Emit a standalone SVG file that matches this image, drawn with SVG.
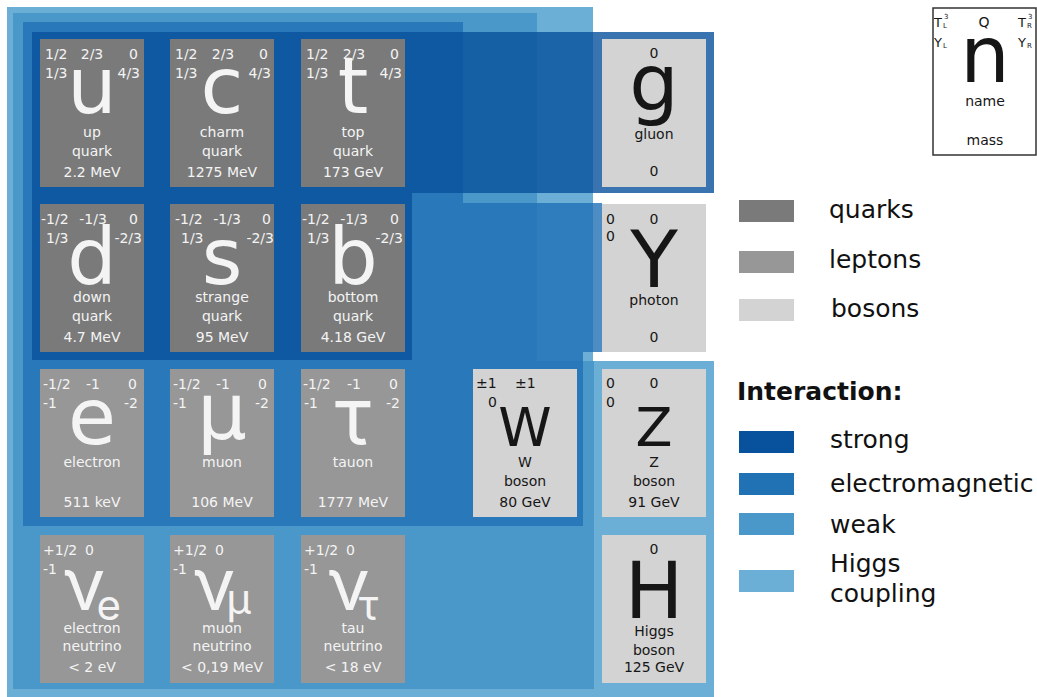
<svg xmlns="http://www.w3.org/2000/svg" width="1037" height="697" viewBox="0 0 1037 697">
<style>
text{font-family:"DejaVu Sans",Verdana,sans-serif;font-size:14px}
.q{fill:#7a7a7a}.l{fill:#979797}.bo{fill:#d3d3d3}
.wt text{fill:#f4f4f4}.bk text{fill:#161616}
.m{text-anchor:middle}.e{text-anchor:end}
.big{font-size:78px}.mid{font-size:54px}
.nu{font-size:72px;font-family:Inter,"DejaVu Sans",sans-serif}
.sub{font-size:42px}
.lg{font-size:25px;fill:#111}
.sm{font-size:7px}
</style>
<rect width="1037" height="697" fill="#fff"/>
<g id="interactions">
<polygon id="higgs-region" points="7,7 593,7 593,361 714,361 714,697 7,697" fill="#6baed6"/>
<polygon id="weak-region" points="13,13 537,13 537,361 594,361 594,689 13,689" fill="#4292c6" fill-opacity="0.8"/>
<polygon id="em-region" points="23,22 463,22 463,203 602,203 602,352 583,352 583,526 23,526" fill="#2171b5" fill-opacity="0.8"/>
<polygon id="strong-region" points="32,32 714,32 714,193 412,193 412,360 32,360" fill="#08519c" fill-opacity="0.8"/>
</g>

<g id="up" class="wt"><rect class="q" x="40" y="39" width="104" height="148"/>
<text x="45" y="59">1/2</text><text class="m" x="92" y="59">2/3</text><text class="e" x="138" y="59">0</text>
<text x="45" y="78">1/3</text><text class="e" x="140" y="78">4/3</text>
<text class="m big" x="92" y="113">u</text>
<text class="m" x="92" y="137">up</text><text class="m" x="92" y="156">quark</text><text class="m" x="92" y="177">2.2 MeV</text></g>

<g id="charm" class="wt"><rect class="q" x="170" y="39" width="104" height="148"/>
<text x="175" y="59">1/2</text><text class="m" x="223" y="59">2/3</text><text class="e" x="268" y="59">0</text>
<text x="175" y="78">1/3</text><text class="e" x="271" y="78">4/3</text>
<text class="m big" x="222" y="113">c</text>
<text class="m" x="222" y="137">charm</text><text class="m" x="222" y="156">quark</text><text class="m" x="222" y="177">1275 MeV</text></g>

<g id="top" class="wt"><rect class="q" x="301" y="39" width="104" height="148"/>
<text x="306" y="59">1/2</text><text class="m" x="354" y="59">2/3</text><text class="e" x="399" y="59">0</text>
<text x="306" y="78">1/3</text><text class="e" x="402" y="78">4/3</text>
<text class="m big" x="353" y="113">t</text>
<text class="m" x="353" y="137">top</text><text class="m" x="353" y="156">quark</text><text class="m" x="353" y="177">173 GeV</text></g>

<g id="down" class="wt"><rect class="q" x="40" y="204" width="104" height="148"/>
<text x="41" y="224">-1/2</text><text class="m" x="93" y="224">-1/3</text><text class="e" x="138" y="224">0</text>
<text x="46" y="243">1/3</text><text class="e" x="142" y="243">-2/3</text>
<text class="m big" x="92" y="284">d</text>
<text class="m" x="92" y="302">down</text><text class="m" x="92" y="321">quark</text><text class="m" x="92" y="342">4.7 MeV</text></g>

<g id="strange" class="wt"><rect class="q" x="170" y="204" width="104" height="148"/>
<text x="175" y="224">-1/2</text><text class="m" x="227" y="224">-1/3</text><text class="e" x="271" y="224">0</text>
<text x="181" y="243">1/3</text><text class="e" x="274" y="243">-2/3</text>
<text class="m big" x="222" y="284">s</text>
<text class="m" x="222" y="302">strange</text><text class="m" x="222" y="321">quark</text><text class="m" x="222" y="342">95 MeV</text></g>

<g id="bottom" class="wt"><rect class="q" x="301" y="204" width="104" height="148"/>
<text x="302" y="224">-1/2</text><text class="m" x="354" y="224">-1/3</text><text class="e" x="399" y="224">0</text>
<text x="307" y="243">1/3</text><text class="e" x="403" y="243">-2/3</text>
<text class="m big" x="353" y="284">b</text>
<text class="m" x="353" y="302">bottom</text><text class="m" x="353" y="321">quark</text><text class="m" x="353" y="342">4.18 GeV</text></g>

<g id="electron" class="wt"><rect class="l" x="40" y="369" width="104" height="148"/>
<text x="43" y="389">-1/2</text><text x="86" y="389">-1</text><text class="e" x="137" y="389">0</text>
<text x="43" y="408">-1</text><text class="e" x="138" y="408">-2</text>
<text class="m big" x="92" y="444">e</text>
<text class="m" x="92" y="467">electron</text><text class="m" x="92" y="507">511 keV</text></g>

<g id="muon" class="wt"><rect class="l" x="170" y="369" width="104" height="148"/>
<text x="173" y="389">-1/2</text><text x="216" y="389">-1</text><text class="e" x="267" y="389">0</text>
<text x="173" y="408">-1</text><text class="e" x="269" y="408">-2</text>
<text class="m big" x="222" y="439">μ</text>
<text class="m" x="222" y="467">muon</text><text class="m" x="222" y="507">106 MeV</text></g>

<g id="tauon" class="wt"><rect class="l" x="301" y="369" width="104" height="148"/>
<text x="303" y="389">-1/2</text><text x="347" y="389">-1</text><text class="e" x="398" y="389">0</text>
<text x="304" y="408">-1</text><text class="e" x="400" y="408">-2</text>
<text class="m big" x="353" y="444" style="font-family:Inter,'DejaVu Sans',sans-serif">τ</text>
<text class="m" x="353" y="467">tauon</text><text class="m" x="353" y="507">1777 MeV</text></g>

<g id="electron-neutrino" class="wt"><rect class="l" x="40" y="535" width="104" height="148"/>
<text x="43" y="555">+1/2</text><text x="85" y="555">0</text>
<text x="43" y="574">-1</text>
<text class="m nu" x="92" y="610">ν<tspan class="sub" dx="-9" dy="10">e</tspan></text>
<text class="m" x="92" y="633">electron</text><text class="m" x="92" y="651">neutrino</text><text class="m" x="92" y="672">&lt; 2 eV</text></g>

<g id="muon-neutrino" class="wt"><rect class="l" x="170" y="535" width="104" height="148"/>
<text x="173" y="555">+1/2</text><text x="215" y="555">0</text>
<text x="173" y="574">-1</text>
<text class="m nu" x="222" y="610">ν<tspan class="sub" dx="-9" dy="4">μ</tspan></text>
<text class="m" x="222" y="633">muon</text><text class="m" x="222" y="651">neutrino</text><text class="m" x="222" y="672">&lt; 0,19 MeV</text></g>

<g id="tau-neutrino" class="wt"><rect class="l" x="301" y="535" width="104" height="148"/>
<text x="304" y="555">+1/2</text><text x="346" y="555">0</text>
<text x="304" y="574">-1</text>
<text class="m nu" x="353" y="610">ν<tspan class="sub" dx="-11" dy="10">τ</tspan></text>
<text class="m" x="353" y="633">tau</text><text class="m" x="353" y="651">neutrino</text><text class="m" x="353" y="672">&lt; 18 eV</text></g>

<g id="gluon" class="bk"><rect class="bo" x="602" y="39" width="104" height="148"/>
<text class="m" x="654" y="58">0</text>
<text class="m big" x="654" y="110">g</text>
<text class="m" x="654" y="139">gluon</text><text class="m" x="654" y="176">0</text></g>

<g id="photon" class="bk"><rect class="bo" x="602" y="204" width="104" height="148"/>
<text x="606" y="224">0</text><text class="m" x="654" y="224">0</text>
<text x="606" y="241">0</text>
<text class="m big" x="654" y="287">Y</text>
<text class="m" x="654" y="305">photon</text><text class="m" x="654" y="342">0</text></g>

<g id="w-boson" class="bk"><rect class="bo" x="473" y="369" width="104" height="148"/>
<text x="476" y="388">±1</text><text x="515" y="388">±1</text>
<text x="488" y="407">0</text>
<text class="m mid" x="525" y="446">W</text>
<text class="m" x="525" y="467">W</text><text class="m" x="525" y="486">boson</text><text class="m" x="525" y="507">80 GeV</text></g>

<g id="z-boson" class="bk"><rect class="bo" x="602" y="369" width="104" height="148"/>
<text x="606" y="388">0</text><text class="m" x="654" y="388">0</text>
<text x="606" y="407">0</text>
<text class="m mid" x="654" y="446">Z</text>
<text class="m" x="654" y="467">Z</text><text class="m" x="654" y="486">boson</text><text class="m" x="654" y="507">91 GeV</text></g>

<g id="higgs" class="bk"><rect class="bo" x="602" y="535" width="104" height="148"/>
<text class="m" x="654" y="554">0</text>
<text class="m big" x="654" y="618">H</text>
<text class="m" x="654" y="636">Higgs</text><text class="m" x="654" y="655">boson</text><text class="m" x="654" y="672">125 GeV</text></g>

<g id="key" class="bk">
<rect x="933" y="8" width="103" height="147" fill="#fff" stroke="#333" stroke-width="1.5"/>
<text x="934" y="27" style="font-size:13px">T</text><text class="sm" x="943" y="28">L</text><text class="sm" x="944" y="19">3</text>
<text x="934" y="47" style="font-size:13px">Y</text><text class="sm" x="943" y="48">L</text>
<text class="m" x="984" y="27">Q</text>
<text x="1018" y="27" style="font-size:13px">T</text><text class="sm" x="1027" y="28">R</text><text class="sm" x="1028" y="19">3</text>
<text x="1018" y="47" style="font-size:13px">Y</text><text class="sm" x="1027" y="48">R</text>
<text class="m big" x="985" y="82">n</text>
<text class="m" x="985" y="106">name</text><text class="m" x="985" y="145">mass</text>
</g>

<g id="legend">
<rect x="739" y="200" width="55" height="22" fill="#7a7a7a"/><text class="lg" x="829" y="218">quarks</text>
<rect x="739" y="251" width="55" height="22" fill="#979797"/><text class="lg" x="829" y="268">leptons</text>
<rect x="739" y="299" width="55" height="22" fill="#d3d3d3"/><text class="lg" x="831" y="317">bosons</text>
<text class="lg" x="737" y="400" style="font-weight:bold">Interaction:</text>
<rect x="739" y="431" width="55" height="22" fill="#08519c"/><text class="lg" x="830" y="448">strong</text>
<rect x="739" y="473" width="55" height="22" fill="#2171b5"/><text class="lg" x="830" y="492">electromagnetic</text>
<rect x="739" y="513" width="55" height="22" fill="#4a98c9"/><text class="lg" x="830" y="533">weak</text>
<rect x="739" y="570" width="55" height="22" fill="#6baed6"/><text class="lg" x="830" y="572">Higgs</text><text class="lg" x="830" y="602">coupling</text>
</g>
</svg>
